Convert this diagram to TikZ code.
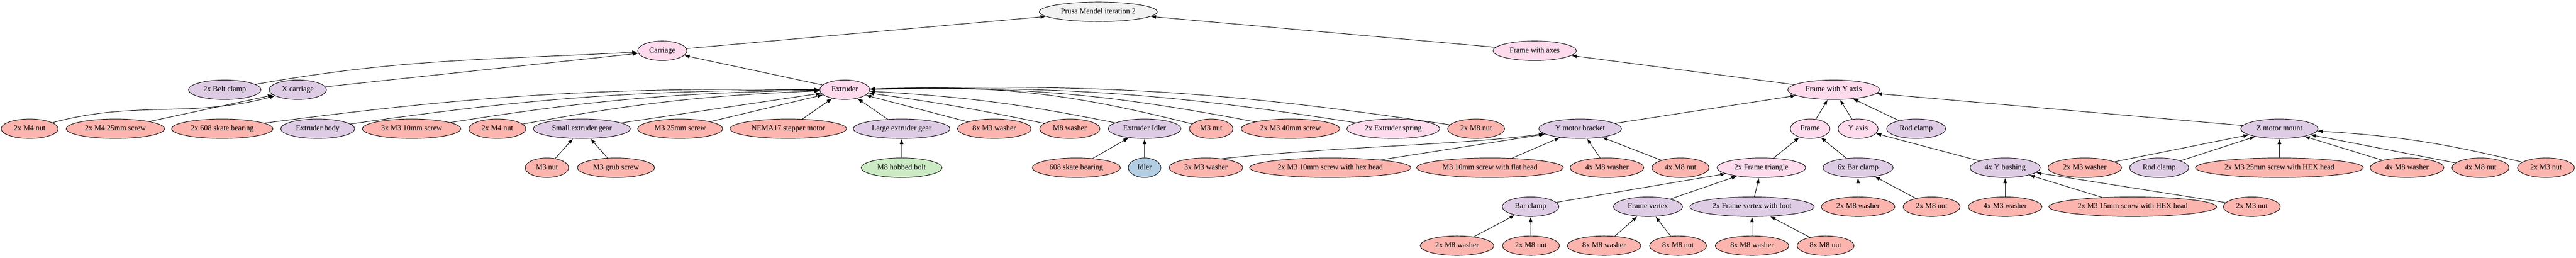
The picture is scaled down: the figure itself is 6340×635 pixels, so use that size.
\documentclass[tikz,border=0pt]{standalone}
\usepackage{fontspec}
\setmainfont{Liberation Serif}
\usetikzlibrary{shapes.geometric,arrows.meta}
\definecolor{asmpink}{HTML}{FDDAEC}
\definecolor{prtlilac}{HTML}{DECBE4}
\definecolor{hwsalmon}{HTML}{FBB4AE}
\definecolor{hwgreen}{HTML}{CCEBC5}
\definecolor{hwblue}{HTML}{B3CDE3}
\definecolor{topgrey}{HTML}{F2F2F2}

\begin{document}
\begin{tikzpicture}[x=0.375pt,y=0.375pt,font=\fontsize{7}{8}\selectfont,
    box/.style={draw,ellipse,line width=0.45pt,inner xsep=4pt,inner ysep=1pt,
      minimum height=18pt,minimum width=27pt,text height=4.75pt,text depth=1.5pt},
    asm/.style={box,fill=asmpink},
    prt/.style={box,fill=prtlilac},
    hw/.style={box,fill=hwsalmon},
    dep/.style={-{Latex[length=5pt,width=3.5pt]},line width=0.45pt}]
      \useasboundingbox (0,0) rectangle (6340,635);
      % top
      \node[box,fill=topgrey] (prusa) at (2703,606) {Prusa Mendel iteration 2};
      \node[asm] (carr) at (1630,510) {Carriage};
      \node[asm] (fwa) at (3777,510) {Frame with axes};
      \node[prt] (belt) at (553,414) {2x Belt clamp};
      \node[prt] (xcar) at (733,414) {X carriage};
      \node[asm] (extr) at (2079,414) {Extruder};
      \node[asm] (fwy) at (4513,414) {Frame with Y axis};
      % first row of parts
      \node[hw] (m4nuta) at (73,318) {2x M4 nut};
      \node[hw] (m4scr) at (284,318) {2x M4 25mm screw};
      \node[hw] (b608a) at (547,318) {2x 608 skate bearing};
      \node[prt] (ebody) at (782,318) {Extruder body};
      \node[hw] (m3s10) at (1013,318) {3x M3 10mm screw};
      \node[hw] (m4nutb) at (1224,318) {2x M4 nut};
      \node[prt] (sgear) at (1432,318) {Small extruder gear};
      \node[hw] (m3s25) at (1674,318) {M3 25mm screw};
      \node[hw] (nema) at (1940,318) {NEMA17 stepper motor};
      \node[prt] (lgear) at (2219,318) {Large extruder gear};
      \node[hw] (m3w8) at (2447,318) {8x M3 washer};
      \node[hw] (m8wa) at (2633,318) {M8 washer};
      \node[prt] (eidler) at (2817,318) {Extruder Idler};
      \node[hw] (m3nuta) at (2981,318) {M3 nut};
      \node[hw] (m3s40) at (3176,318) {2x M3 40mm screw};
      \node[asm] (spring) at (3429,318) {2x Extruder spring};
      \node[hw] (m8nuta) at (3633,318) {2x M8 nut};
      \node[prt] (ymot) at (3889,318) {Y motor bracket};
      \node[asm] (frame) at (4455,318) {Frame};
      \node[asm] (yaxis) at (4573,318) {Y axis};
      \node[prt] (rodca) at (4716,318) {Rod clamp};
      \node[prt] (zmot) at (5610,318) {Z motor mount};
      % second row
      \node[hw] (m3nutb) at (1346,222) {M3 nut};
      \node[hw] (grub) at (1516,222) {M3 grub screw};
      \node[box,fill=hwgreen] (hobbed) at (2219,222) {M8 hobbed bolt};
      \node[hw] (b608b) at (2649,222) {608 skate bearing};
      \node[box,fill=hwblue] (idler) at (2817,222) {Idler};
      \node[hw] (m3w3) at (2968,222) {3x M3 washer};
      \node[hw] (m3hex10) at (3274,222) {2x M3 10mm screw with hex head};
      \node[hw] (m3flat) at (3667,222) {M3 10mm screw with flat head};
      \node[hw] (m8w4a) at (3955,222) {4x M8 washer};
      \node[hw] (m8n4a) at (4136,222) {4x M8 nut};
      \node[asm] (ftri) at (4335,222) {2x Frame triangle};
      \node[prt] (bclamp6) at (4573,222) {6x Bar clamp};
      \node[prt] (ybush) at (4935,222) {4x Y bushing};
      \node[hw] (m3w2) at (5131,222) {2x M3 washer};
      \node[prt] (rodcb) at (5314,222) {Rod clamp};
      \node[hw] (m3hex25) at (5610,222) {2x M3 25mm screw with HEX head};
      \node[hw] (m8w4b) at (5924,222) {4x M8 washer};
      \node[hw] (m8n4b) at (6105,222) {4x M8 nut};
      \node[hw] (m3n2a) at (6266,222) {2x M3 nut};
      % third row
      \node[prt] (bclamp) at (3767,126) {Bar clamp};
      \node[prt] (fvert) at (4056,126) {Frame vertex};
      \node[prt] (fvfoot) at (4312,126) {2x Frame vertex with foot};
      \node[hw] (m8w2b) at (4573,126) {2x M8 washer};
      \node[hw] (m8n2b) at (4754,126) {2x M8 nut};
      \node[hw] (m3w4) at (4935,126) {4x M3 washer};
      \node[hw] (m3hex15) at (5249,126) {2x M3 15mm screw with HEX head};
      \node[hw] (m3n2b) at (5542,126) {2x M3 nut};
      % bottom row
      \node[hw] (m8w2a) at (3586,30) {2x M8 washer};
      \node[hw] (m8n2a) at (3768,30) {2x M8 nut};
      \node[hw] (m8w8a) at (3948,30) {8x M8 washer};
      \node[hw] (m8n8a) at (4130,30) {8x M8 nut};
      \node[hw] (m8w8b) at (4312,30) {8x M8 washer};
      \node[hw] (m8n8b) at (4493,30) {8x M8 nut};
      % carriage
      \draw[dep] (carr) -- (prusa);
      \draw[dep] (fwa) -- (prusa);
      \draw[dep] (belt) to[out=10,in=183] (carr);
      \draw[dep] (xcar) -- (carr);
      \draw[dep] (extr) -- (carr);
      \draw[dep] (m4nuta) to[out=15,in=195] (xcar);
      \draw[dep] (m4scr) -- (xcar);
      % extruder
      \draw[dep] (b608a) to[bend left=4] (extr);
      \draw[dep] (ebody) to[bend left=4] (extr);
      \draw[dep] (m3s10) to[bend left=4] (extr);
      \draw[dep] (m4nutb) to[bend left=4] (extr);
      \draw[dep] (sgear) -- (extr);
      \draw[dep] (m3s25) -- (extr);
      \draw[dep] (nema) -- (extr);
      \draw[dep] (lgear) -- (extr);
      \draw[dep] (m3w8) -- (extr);
      \draw[dep] (m8wa) to[bend right=2] (extr);
      \draw[dep] (eidler) to[bend right=4] (extr);
      \draw[dep] (m3nuta) to[bend right=8] (extr);
      \draw[dep] (m3s40) to[bend right=6] (extr);
      \draw[dep] (spring) to[bend right=5] (extr);
      \draw[dep] (m8nuta) to[bend right=5] (extr);
      \draw[dep] (m3nutb) -- (sgear);
      \draw[dep] (grub) -- (sgear);
      \draw[dep] (hobbed) -- (lgear);
      \draw[dep] (b608b) -- (eidler);
      \draw[dep] (idler) -- (eidler);
      % frame with axes
      \draw[dep] (fwy) -- (fwa);
      \draw[dep] (ymot) -- (fwy);
      \draw[dep] (frame) -- (fwy);
      \draw[dep] (yaxis) -- (fwy);
      \draw[dep] (rodca) -- (fwy);
      \draw[dep] (zmot) -- (fwy);
      \draw[dep] (m3w3.30) .. controls (3300,275) and (3600,278) .. (ymot);
      \draw[dep] (m3hex10) -- (ymot);
      \draw[dep] (m3flat) -- (ymot);
      \draw[dep] (m8w4a) -- (ymot);
      \draw[dep] (m8n4a) -- (ymot);
      % frame
      \draw[dep] (ftri) -- (frame);
      \draw[dep] (bclamp6) -- (frame);
      \draw[dep] (bclamp) -- (ftri);
      \draw[dep] (fvert) -- (ftri);
      \draw[dep] (fvfoot) -- (ftri);
      \draw[dep] (m8w2a) -- (bclamp);
      \draw[dep] (m8n2a) -- (bclamp);
      \draw[dep] (m8w8a) -- (fvert);
      \draw[dep] (m8n8a) -- (fvert);
      \draw[dep] (m8w8b) -- (fvfoot);
      \draw[dep] (m8n8b) -- (fvfoot);
      \draw[dep] (m8w2b) -- (bclamp6);
      \draw[dep] (m8n2b) -- (bclamp6);
      % y axis
      \draw[dep] (ybush) -- (yaxis);
      \draw[dep] (m3w4) -- (ybush);
      \draw[dep] (m3hex15) -- (ybush);
      \draw[dep] (m3n2b) -- (ybush);
      % z motor mount
      \draw[dep] (m3w2) -- (zmot);
      \draw[dep] (rodcb) -- (zmot);
      \draw[dep] (m3hex25) -- (zmot);
      \draw[dep] (m8w4b) -- (zmot);
      \draw[dep] (m8n4b) -- (zmot);
      \draw[dep] (m3n2a) to[bend right=5] (zmot);
    \end{tikzpicture}
\end{document}
